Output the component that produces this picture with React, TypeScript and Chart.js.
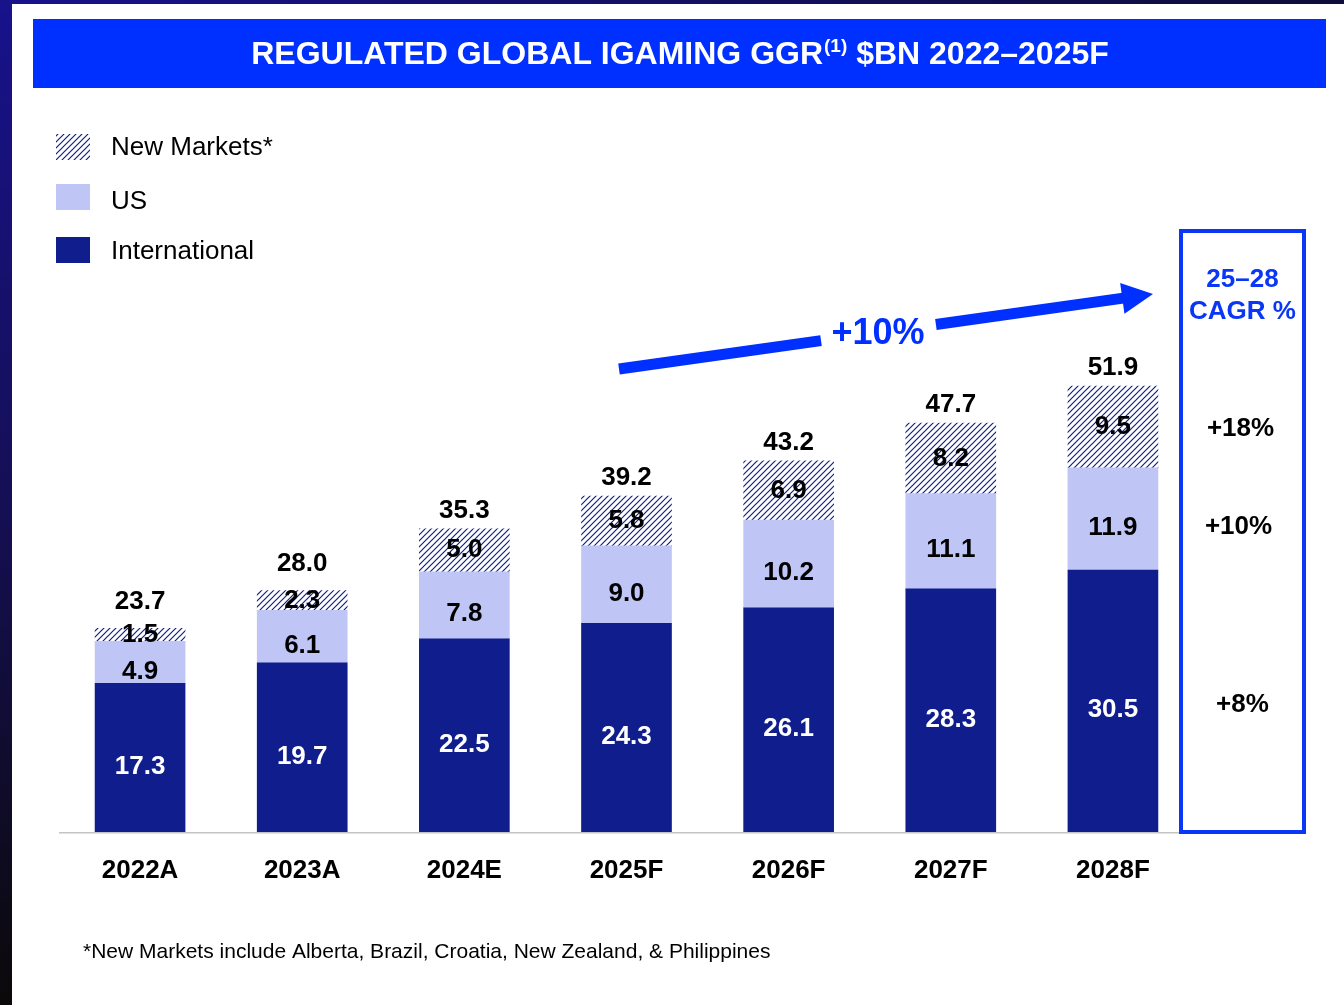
import React, { useEffect, useRef } from "react";
import { Chart, registerables } from "chart.js";

Chart.register(...registerables);

const categories = ["2022A", "2023A", "2024E", "2025F", "2026F", "2027F", "2028F"];
const international = [17.3, 19.7, 22.5, 24.3, 26.1, 28.3, 30.5];
const us = [4.9, 6.1, 7.8, 9.0, 10.2, 11.1, 11.9];
const newMarkets = [1.5, 2.3, 5.0, 5.8, 6.9, 8.2, 9.5];
const totals = [23.7, 28.0, 35.3, 39.2, 43.2, 47.7, 51.9];
const seriesNames = ["New Markets*", "US", "International"];
const cagrNew = "+18%";
const cagrUs = "+10%";
const cagrIntl = "+8%";
const overallCagr = "+10%";
const cagrHeader = ["25–28", "CAGR %"];
const titleMain = "REGULATED GLOBAL IGAMING GGR";
const titleSup = "(1)";
const titleRest = " $BN 2022–2025F";
const footnote = "*New Markets include Alberta, Brazil, Croatia, New Zealand, & Philippines";

const NAVY = "#101d8c";
const LIGHT = "#bfc6f5";
const BLUE = "#0030ff";
const BOX_BLUE = "#0a36f5";
const FONT = '"Liberation Sans", Arial, sans-serif';

function makePattern(): CanvasPattern | string {
  const s = 6;
  const c = document.createElement("canvas");
  c.width = s;
  c.height = s;
  const g = c.getContext("2d");
  if (!g) return NAVY;
  g.fillStyle = "#ffffff";
  g.fillRect(0, 0, s, s);
  g.strokeStyle = NAVY;
  g.lineWidth = 1.2;
  g.beginPath();
  g.moveTo(-1, s + 1);
  g.lineTo(s + 1, -1);
  g.moveTo(-1, 1);
  g.lineTo(1, -1);
  g.moveTo(s - 1, s + 1);
  g.lineTo(s + 1, s - 1);
  g.stroke();
  return g.createPattern(c, "repeat") || NAVY;
}

export default function App() {
  const ref = useRef<HTMLCanvasElement | null>(null);

  useEffect(() => {
    const canvas = ref.current;
    if (!canvas) return;
    const pattern = makePattern();
    const BOX = { l: 1179, t: 229, r: 1306, b: 834 };

    const decor = {
      id: "decor",
      beforeDraw(chart: any) {
        const ctx = chart.ctx as CanvasRenderingContext2D;
        const W = chart.width;
        const H = chart.height;
        ctx.save();
        ctx.fillStyle = "#ffffff";
        ctx.fillRect(0, 0, W, H);
        const lg = ctx.createLinearGradient(0, 0, 0, H);
        lg.addColorStop(0, "#18128c");
        lg.addColorStop(0.5, "#150f55");
        lg.addColorStop(1, "#0b0909");
        ctx.fillStyle = lg;
        ctx.fillRect(0, 0, 12, H);
        const tg = ctx.createLinearGradient(0, 0, W, 0);
        tg.addColorStop(0, "#18128c");
        tg.addColorStop(1, "#0e0c3a");
        ctx.fillStyle = tg;
        ctx.fillRect(0, 0, W, 4);
        // title bar
        ctx.fillStyle = BLUE;
        ctx.fillRect(33, 19, 1326 - 33, 88 - 19);
        ctx.fillStyle = "#ffffff";
        ctx.textBaseline = "middle";
        ctx.textAlign = "left";
        const bigF = `bold 32px ${FONT}`;
        const supF = `bold 19px ${FONT}`;
        ctx.font = bigF;
        const w1 = ctx.measureText(titleMain).width;
        const w3 = ctx.measureText(titleRest).width;
        ctx.font = supF;
        const w2 = ctx.measureText(titleSup).width;
        let x = 679.5 - (w1 + w2 + w3) / 2;
        const ty = 55;
        ctx.font = bigF;
        ctx.fillText(titleMain, x, ty);
        x += w1;
        ctx.font = supF;
        ctx.fillText(titleSup, x + 1, ty - 8);
        x += w2 + 1;
        ctx.font = bigF;
        ctx.fillText(titleRest, x, ty);
        // legend
        const fills = [pattern, LIGHT, NAVY];
        const rows = [134, 184, 237];
        const textRows = [148, 202, 252];
        ctx.font = `26px ${FONT}`;
        rows.forEach((ry, i) => {
          ctx.fillStyle = fills[i] as any;
          ctx.fillRect(56, ry, 34, 26);
          ctx.fillStyle = "#000000";
          ctx.fillText(seriesNames[i], 111, textRows[i]);
        });
        // footnote
        ctx.font = `21px ${FONT}`;
        ctx.fillStyle = "#000000";
        ctx.fillText(footnote, 83, 952);
        ctx.restore();
      },
      beforeDatasetsDraw(chart: any) {
        const ctx = chart.ctx as CanvasRenderingContext2D;
        const y = chart.scales.y.getPixelForValue(0);
        ctx.save();
        ctx.strokeStyle = "#c4c4c4";
        ctx.lineWidth = 1.6;
        ctx.beginPath();
        ctx.moveTo(chart.chartArea.left, y + 0.8);
        ctx.lineTo(BOX.l, y + 0.8);
        ctx.stroke();
        ctx.restore();
      },
      afterDatasetsDraw(chart: any) {
        const ctx = chart.ctx as CanvasRenderingContext2D;
        ctx.save();
        ctx.textAlign = "center";
        ctx.textBaseline = "middle";
        ctx.font = `bold 26px ${FONT}`;
        const metaI = chart.getDatasetMeta(0);
        const metaU = chart.getDatasetMeta(1);
        const metaN = chart.getDatasetMeta(2);
        const offs = [9, 9, 0];
        const colors = ["#ffffff", "#000000", "#000000"];
        const data = [international, us, newMarkets];
        [metaI, metaU, metaN].forEach((meta: any, di: number) => {
          meta.data.forEach((bar: any, i: number) => {
            const cy = (bar.y + bar.base) / 2 + offs[di];
            ctx.fillStyle = colors[di];
            ctx.fillText(data[di][i].toFixed(1), bar.x, cy);
          });
        });
        metaN.data.forEach((bar: any, i: number) => {
          const h = Math.abs(bar.base - bar.y);
          const gap = h < 25 ? 27 : 18;
          ctx.fillStyle = "#000000";
          ctx.fillText(totals[i].toFixed(1), bar.x, bar.y - gap);
        });

        // overall CAGR arrow
        const ax0 = 619, ay0 = 369, ax1 = 1153, ay1 = 294;
        const ang = Math.atan2(ay1 - ay0, ax1 - ax0);
        const len = Math.hypot(ax1 - ax0, ay1 - ay0);
        ctx.translate(ax0, ay0);
        ctx.rotate(ang);
        ctx.fillStyle = BLUE;
        const th = 11;
        const headL = 31;
        const gapA = 204, gapB = 320;
        ctx.fillRect(0, -th / 2, gapA, th);
        ctx.fillRect(gapB, -th / 2, len - headL - gapB + 1, th);
        ctx.beginPath();
        ctx.moveTo(len, 0);
        ctx.lineTo(len - headL, -15.5);
        ctx.lineTo(len - headL, 15.5);
        ctx.closePath();
        ctx.fill();
        ctx.setTransform(1, 0, 0, 1, 0, 0);
        ctx.font = `bold 36px ${FONT}`;
        ctx.fillStyle = BLUE;
        ctx.fillText(overallCagr, 878, 334);

        // CAGR box
        ctx.strokeStyle = BOX_BLUE;
        ctx.lineWidth = 4;
        ctx.fillStyle = "#ffffff";
        ctx.fillRect(BOX.l, BOX.t, BOX.r - BOX.l, BOX.b - BOX.t);
        ctx.strokeRect(BOX.l + 2, BOX.t + 2, BOX.r - BOX.l - 4, BOX.b - BOX.t - 4);
        const bx = (BOX.l + BOX.r) / 2;
        ctx.font = `bold 26px ${FONT}`;
        ctx.fillStyle = BOX_BLUE;
        ctx.fillText(cagrHeader[0], bx, 280);
        ctx.fillText(cagrHeader[1], bx, 312);
        ctx.fillStyle = "#000000";
        const last = categories.length - 1;
        const bI = metaI.data[last];
        const bU = metaU.data[last];
        const bN = metaN.data[last];
        ctx.fillText(cagrNew, bx - 2, (bN.y + bN.base) / 2 + 2);
        ctx.fillText(cagrUs, bx - 4, (bU.y + bU.base) / 2 + 8);
        ctx.fillText(cagrIntl, bx, (bI.y + bI.base) / 2 + 4);
        ctx.restore();
      },
    };

    const chart = new Chart(canvas, {
      type: "bar",
      data: {
        labels: categories,
        datasets: [
          { label: "International", data: international, backgroundColor: NAVY, borderWidth: 0 },
          { label: "US", data: us, backgroundColor: LIGHT, borderWidth: 0 },
          { label: "New Markets*", data: newMarkets, backgroundColor: pattern as any, borderWidth: 0 },
        ],
      },
      options: {
        responsive: false,
        animation: false,
        events: [],
        layout: { padding: { left: 59, right: 150, top: 316.6, bottom: 0 } },
        datasets: { bar: { barThickness: 90 } },
        scales: {
          x: {
            stacked: true,
            grid: { display: false, drawTicks: false },
            border: { display: false },
            ticks: { color: "#000000", font: { family: FONT, size: 26, weight: "bold" }, padding: 23, maxRotation: 0 },
            afterFit: (s: any) => {
              s.height = 173;
            },
          },
          y: { stacked: true, display: false, min: 0, max: 60 },
        },
        plugins: { legend: { display: false }, tooltip: { enabled: false } },
      },
      plugins: [decor],
    } as any);
    return () => chart.destroy();
  }, []);

  return (
    <div style={{ position: "fixed", left: 0, top: 0, width: 1344, height: 1005, background: "#fff" }}>
      <canvas ref={ref} width={1344} height={1005} style={{ display: "block", width: 1344, height: 1005 }} />
    </div>
  );
}
